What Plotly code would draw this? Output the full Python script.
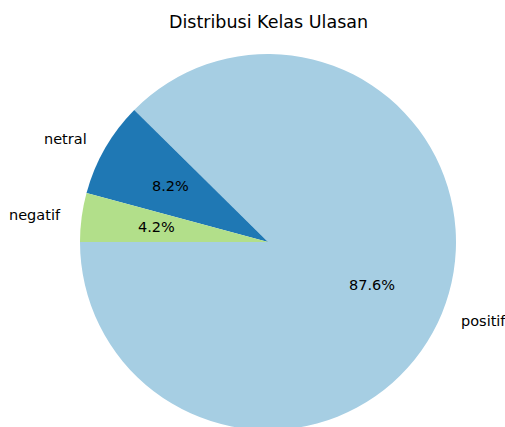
import math
import plotly.graph_objects as go

labels = ["positif", "netral", "negatif"]
values = [87.6, 8.2, 4.2]
colors = ["#a6cee3", "#1f78b4", "#b2df8a"]
title_text = "Distribusi Kelas Ulasan"

W, H = 505, 430
ML, MR, MT, MB = 31, 0, 54, 0
plot_w = W - ML - MR
plot_h = H - MT - MB
R = min(plot_w, plot_h) / 2.0

total = sum(values)
frac0 = values[0] / total
# first slice starts at 9 o'clock and runs counter-clockwise (matplotlib startangle=180)
rotation = -90 + 360 * (1 - frac0)

fig = go.Figure(go.Pie(
    labels=labels, values=values, sort=False,
    direction="counterclockwise", rotation=rotation,
    marker=dict(colors=colors, line=dict(width=0)),
    textinfo="none", hoverinfo="label+percent", showlegend=False,
))

font = dict(family="DejaVu Sans", size=14.5, color="#000000")
annotations = []
start = 180.0
for lab, v in zip(labels, values):
    frac = v / total
    mid = math.radians(start + 360 * frac / 2)
    start += 360 * frac
    cx, cy = math.cos(mid), math.sin(mid)
    annotations.append(dict(
        x=0.5 + 1.1 * cx * R / plot_w, y=0.5 + 1.1 * cy * R / plot_h,
        xref="paper", yref="paper", text=lab, showarrow=False,
        xanchor="left" if cx > 0 else "right", yanchor="middle", font=font))
    annotations.append(dict(
        x=0.5 + 0.6 * cx * R / plot_w, y=0.5 + 0.6 * cy * R / plot_h,
        xref="paper", yref="paper", text=f"{100*frac:.1f}%", showarrow=False,
        xanchor="center", yanchor="middle", font=font))

annotations.append(dict(
    x=0.5, y=1, xref="paper", yref="paper", yshift=32,
    text=title_text, showarrow=False, xanchor="center", yanchor="middle",
    font=dict(family="DejaVu Sans", size=17.5, color="#000000")))

fig.update_layout(
    width=W, height=H, margin=dict(l=ML, r=MR, t=MT, b=MB),
    paper_bgcolor="white", plot_bgcolor="white",
    annotations=annotations,
)
fig.write_html(
    "out.html",
    config={"displayModeBar": False},
    post_script="document.body.style.margin='0';document.body.style.overflow='hidden';",
)
